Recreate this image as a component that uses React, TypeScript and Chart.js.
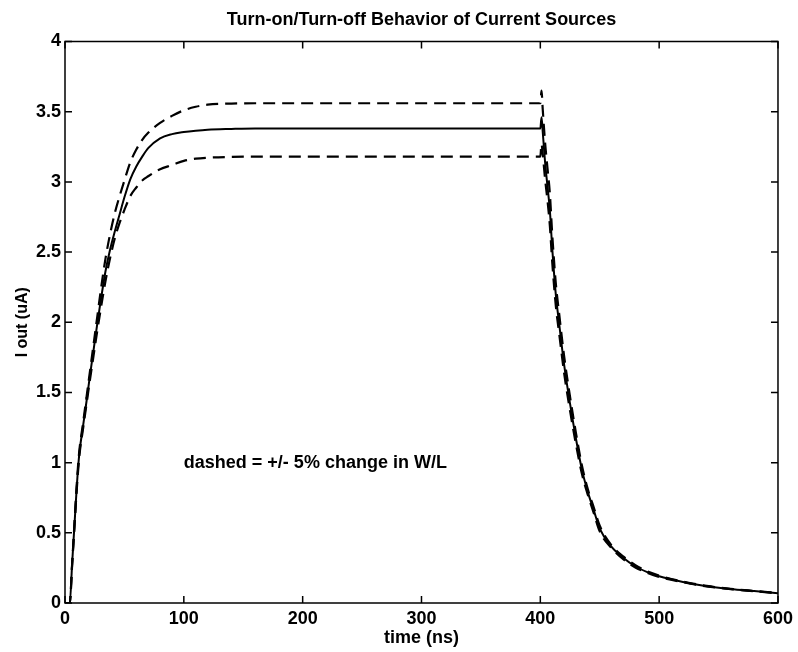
import React, { useEffect, useRef } from "react";
import { Chart, registerables } from "chart.js";

Chart.register(...registerables);

const titleText = "Turn-on/Turn-off Behavior of Current Sources";
const xLabel = "time (ns)";
const yLabel = "I out (uA)";
const noteText = "dashed = +/- 5% change in W/L";
const noteAt = { x: 100, y: 1.0 };

const xTickValues = [0, 100, 200, 300, 400, 500, 600];
const yTickValues = [0, 0.5, 1, 1.5, 2, 2.5, 3, 3.5, 4];

const timeNs = [
  0, 4, 6, 8, 10, 12, 15, 18, 21, 24, 27, 30, 34, 38, 42, 46, 50, 55, 60, 65,
  70, 80, 90, 100, 110, 120, 140, 160, 200, 250, 300, 350, 399, 400, 401, 402,
  404, 406, 408, 410, 413, 416, 420, 425, 430, 435, 440, 445, 450, 460, 470,
  480, 490, 500, 520, 540, 560, 580, 600,
];

const iNominal = [
  0, 0, 0.28, 0.56, 0.84, 1.06, 1.25, 1.43, 1.62, 1.8, 1.98, 2.15, 2.36, 2.52,
  2.65, 2.77, 2.89, 3.02, 3.11, 3.18, 3.24, 3.31, 3.34, 3.355, 3.365, 3.372,
  3.377, 3.38, 3.38, 3.38, 3.38, 3.38, 3.38, 3.38, 3.46, 3.36, 3.14, 2.97, 2.8,
  2.53, 2.2, 1.98, 1.7, 1.42, 1.17, 0.95, 0.79, 0.66, 0.53, 0.4, 0.32, 0.26,
  0.22, 0.19, 0.15, 0.12, 0.1, 0.085, 0.07,
];

const iUpper = [
  0, 0, 0.28, 0.57, 0.86, 1.08, 1.27, 1.46, 1.65, 1.84, 2.03, 2.22, 2.45, 2.63,
  2.78, 2.9, 3.01, 3.14, 3.23, 3.3, 3.35, 3.42, 3.47, 3.51, 3.535, 3.55, 3.558,
  3.56, 3.56, 3.56, 3.56, 3.56, 3.56, 3.56, 3.65, 3.52, 3.28, 3.1, 2.92, 2.63,
  2.28, 2.05, 1.76, 1.47, 1.21, 0.98, 0.81, 0.68, 0.55, 0.41, 0.33, 0.27,
  0.225, 0.195, 0.152, 0.122, 0.101, 0.086, 0.072,
];

const iLower = [
  0, 0, 0.27, 0.55, 0.82, 1.04, 1.23, 1.41, 1.59, 1.76, 1.93, 2.09, 2.29, 2.46,
  2.6, 2.71, 2.8, 2.9, 2.96, 3.01, 3.04, 3.09, 3.12, 3.15, 3.165, 3.172, 3.178,
  3.18, 3.18, 3.18, 3.18, 3.18, 3.18, 3.18, 3.27, 3.2, 3.02, 2.87, 2.69, 2.43,
  2.12, 1.91, 1.64, 1.37, 1.13, 0.92, 0.77, 0.64, 0.51, 0.39, 0.31, 0.253,
  0.215, 0.185, 0.148, 0.118, 0.099, 0.084, 0.068,
];

const FONT = "'Liberation Sans', Arial, Helvetica, sans-serif";

const framePlugin = {
  id: "matlabFrame",
  afterDatasetsDraw(chart: any) {
    const { ctx, chartArea: a, scales } = chart;
    const xs = scales.x;
    const ys = scales.y;
    const tl = 7;
    ctx.save();
    ctx.strokeStyle = "#000";
    ctx.lineWidth = 1.5;
    ctx.strokeRect(a.left, a.top, a.right - a.left, a.bottom - a.top);
    ctx.beginPath();
    xs.ticks.forEach((t: any) => {
      const px = xs.getPixelForValue(t.value);
      ctx.moveTo(px, a.bottom);
      ctx.lineTo(px, a.bottom - tl);
      ctx.moveTo(px, a.top);
      ctx.lineTo(px, a.top + tl);
    });
    ys.ticks.forEach((t: any) => {
      const py = ys.getPixelForValue(t.value);
      ctx.moveTo(a.left, py);
      ctx.lineTo(a.left + tl, py);
      ctx.moveTo(a.right, py);
      ctx.lineTo(a.right - tl, py);
    });
    ctx.stroke();
    ctx.restore();
  },
  afterDraw(chart: any) {
    const { ctx, chartArea: a, scales } = chart;
    ctx.save();
    ctx.fillStyle = "#000";
    ctx.font = `bold 18px ${FONT}`;
    ctx.textAlign = "center";
    ctx.textBaseline = "alphabetic";
    ctx.fillText(titleText, (a.left + a.right) / 2, 25);
    ctx.textAlign = "left";
    ctx.textBaseline = "middle";
    ctx.fillText(
      noteText,
      scales.x.getPixelForValue(noteAt.x),
      scales.y.getPixelForValue(noteAt.y)
    );
    ctx.restore();
  },
};

export default function App() {
  const ref = useRef<HTMLCanvasElement | null>(null);

  useEffect(() => {
    if (!ref.current) return;
    const mk = (ys: number[]) => timeNs.map((t, i) => ({ x: t, y: ys[i] }));
    const line = (ys: number[], dashed: boolean) => ({
      data: mk(ys),
      borderColor: "#000",
      borderWidth: dashed ? 2.2 : 2,
      borderDash: dashed ? [12, 7] : [],
      pointRadius: 0,
      cubicInterpolationMode: "monotone",
      fill: false,
    });
    const chart = new Chart(ref.current, {
      type: "line",
      data: {
        datasets: [line(iUpper, true), line(iNominal, false), line(iLower, true)],
      },
      options: {
        animation: false,
        responsive: false,
        events: [],
        layout: { padding: { left: 0, right: 19, top: 41.5, bottom: 0 } },
        plugins: {
          legend: { display: false },
          tooltip: { enabled: false },
          title: { display: false },
        },
        scales: {
          x: {
            type: "linear",
            min: 0,
            max: 600,
            grid: { display: false, drawTicks: false, tickLength: 0 },
            border: { display: false },
            afterBuildTicks: (s: any) => {
              s.ticks = xTickValues.map((v) => ({ value: v }));
            },
            afterFit: (s: any) => {
              s.height = 49;
            },
            ticks: {
              color: "#000",
              padding: 5,
              maxRotation: 0,
              autoSkip: false,
              callback: (v: any) => String(v),
              font: { family: FONT, size: 18, weight: "bold" },
            },
            title: {
              display: true,
              text: xLabel,
              color: "#000",
              padding: { top: 0, bottom: 3 },
              font: { family: FONT, size: 18, weight: "bold" },
            },
          },
          y: {
            type: "linear",
            min: 0,
            max: 4,
            grid: { display: false, drawTicks: false, tickLength: 0 },
            border: { display: false },
            afterBuildTicks: (s: any) => {
              s.ticks = yTickValues.map((v) => ({ value: v }));
            },
            afterFit: (s: any) => {
              s.width = 65;
            },
            ticks: {
              color: "#000",
              padding: 4,
              autoSkip: false,
              callback: (v: any) => String(v),
              font: { family: FONT, size: 18, weight: "bold" },
            },
            title: {
              display: true,
              text: yLabel,
              color: "#000",
              padding: { top: 13, bottom: 0 },
              font: { family: FONT, size: 16, weight: "bold" },
            },
          },
        },
      },
      plugins: [framePlugin],
    } as any);
    return () => chart.destroy();
  }, []);

  return (
    <div
      style={{
        position: "fixed",
        left: 0,
        top: 0,
        width: 798,
        height: 652,
        background: "#fff",
      }}
    >
      <canvas ref={ref} width={798} height={652} />
    </div>
  );
}
